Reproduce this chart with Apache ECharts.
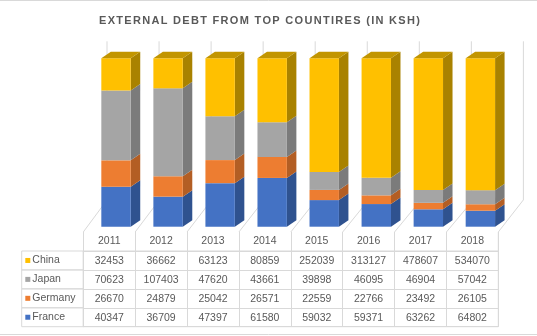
<!DOCTYPE html>
<html><head><meta charset="utf-8">
<script src="https://cdn.jsdelivr.net/npm/echarts@6/dist/echarts.min.js"></script>
<style>html,body{margin:0;padding:0;background:#fff}#c{width:537px;height:336px}</style>
</head><body><div id="c"></div>
<script>
// ---- data ----
const titleText = 'EXTERNAL DEBT FROM TOP COUNTIRES (IN KSH)';
const years = ['2011','2012','2013','2014','2015','2016','2017','2018'];
const countries = ['China','Japan','Germany','France'];
const china   = [32453, 36662, 63123, 80859, 252039, 313127, 478607, 534070];
const japan   = [70623, 107403, 47620, 43661, 39898, 46095, 46904, 57042];
const germany = [26670, 24879, 25042, 26571, 22559, 22766, 23492, 26105];
const france  = [40347, 36709, 47397, 61580, 59032, 59371, 63262, 64802];

// ---- styling ----
const FONT = '"Liberation Sans", Arial, sans-serif';
const TXT = '#595959';
const LINE = '#d9d9d9';
const DX = 9.5, DY = -6.5;
const colors = {
  China:   {front:'#FFC000', side:'#A98200', top:'#C29500'},
  Japan:   {front:'#A5A5A5', side:'#7B7B7B', top:'#8C8C8C'},
  Germany: {front:'#ED7D31', side:'#B35E24', top:'#C96A29'},
  France:  {front:'#4472C4', side:'#2F528F', top:'#3A62A8'}
};
const valuesByCountry = {China: china, Japan: japan, Germany: germany, France: france};
const stackOrder = ['France','Germany','Japan','China'];
const totals = years.map((_, i) => china[i] + japan[i] + germany[i] + france[i]);

// cumulative share per year
const cum = years.map(() => 0);
const barSeries = stackOrder.map((name, k) => {
  const vals = valuesByCountry[name];
  const data = years.map((_, i) => {
    const lo = cum[i];
    const hi = lo + vals[i] / totals[i];
    cum[i] = hi;
    return [i, lo, hi];
  });
  const isTop = k === stackOrder.length - 1;
  const c = colors[name];
  return {
    type: 'custom', name, xAxisIndex: 0, yAxisIndex: 0, z: 5,
    data,
    renderItem(params, api) {
      const i = api.value(0), lo = api.value(1), hi = api.value(2);
      const pLo = api.coord([i, lo]), pHi = api.coord([i, hi]);
      const w = api.size([1, 0])[0] * 0.565;
      const x0 = pLo[0] - w / 2, x1 = x0 + w;
      const ch = [
        {type:'polygon', shape:{points:[[x1,pHi[1]],[x1+DX,pHi[1]+DY],[x1+DX,pLo[1]+DY],[x1,pLo[1]]]}, style:{fill:c.side}},
        {type:'rect', shape:{x:x0, y:pHi[1], width:w, height:pLo[1]-pHi[1]}, style:{fill:c.front}}
      ];
      if (isTop) ch.push({type:'polygon', shape:{points:[[x0,pHi[1]],[x0+DX,pHi[1]+DY],[x1+DX,pHi[1]+DY],[x1,pHi[1]]]}, style:{fill:c.top}});
      return {type:'group', children: ch};
    }
  };
});

// back wall lines (behind bars)
const wallSeries = {
  type:'custom', xAxisIndex:0, yAxisIndex:0, z:1, silent:true,
  data: years.map((_, i) => [i, 0]),
  renderItem(params, api) {
    const p = api.coord([api.value(0), 0]);
    const bw = api.size([1,0])[0];
    const top = api.coord([0, 1])[1] - 17;
    const xs = [p[0] - bw/2 + 17];
    if (api.value(0) === years.length - 1) xs.push(p[0] + bw/2 + 17);
    return {type:'group', children: xs.map(x => ({type:'line', shape:{x1:x, y1:top, x2:x, y2:200}, style:{stroke:LINE, lineWidth:1}}))};
  }
};

// table cells (numbers)
const rowsData = [];
countries.forEach((cn, r) => {
  valuesByCountry[cn].forEach((v, col) => rowsData.push([col, r, v]));
});
const tableSeries = {
  type:'custom', xAxisIndex:1, yAxisIndex:1, z:3, silent:true,
  data: rowsData,
  renderItem(params, api) {
    const col = api.value(0), row = api.value(1);
    const p = api.coord([col, row]);
    const sz = api.size([1, 1]);
    const ch = [{type:'text', x:p[0], y:p[1]+0.5, style:{text:String(api.value(2)), fill:TXT, fontSize:10.5, fontFamily:FONT, align:'center', verticalAlign:'middle'}}];
    if (col === 0) {
      ch.push({type:'rect', shape:{x:p[0]-sz[0]/2-61.6, y:p[1]-sz[1]/2, width:61.6, height:sz[1]}, style:{fill:'none', stroke:LINE, lineWidth:1}});
    }
    if (row === 0) {
      const xl = p[0] - sz[0]/2;
      const headTop = p[1] - sz[1]/2 - 19;
      ch.push({type:'line', z2:-1, shape:{x1:xl, y1:headTop, x2:xl+23.7+0.44*col, y2:200}, style:{stroke:LINE, lineWidth:1}});
      if (col === years.length - 1) {
        const xr = p[0] + sz[0]/2;
        ch.push({type:'line', shape:{x1:xr, y1:headTop, x2:xr+25, y2:200}, style:{stroke:LINE, lineWidth:1}});
        ch.push({type:'line', shape:{x1:xr, y1:headTop, x2:xr, y2:p[1]-sz[1]/2}, style:{stroke:LINE, lineWidth:1}});
      }
    }
    return {type:'group', children: ch};
  }
};

const rich = {t:{color:TXT, fontSize:10.5, fontFamily:FONT, padding:[0,0,0,2]}};
countries.forEach((cn, i) => {
  rich['s' + i] = {width:5, height:5, backgroundColor: colors[cn].front};
});

const titleRich = titleText.split('').map(ch => '{c|' + ch + '}').join('');

const chart = echarts.init(document.getElementById('c'), null, {renderer:'canvas'});
chart.setOption({
  backgroundColor:'#fff',
  animation:false,
  title:{
    text: titleRich, left:94, top:10,
    textStyle:{rich:{c:{fontSize:11, fontWeight:'bold', color:TXT, fontFamily:FONT, padding:[0,1.3,0,0]}}}
  },
  grid:[
    {left:90, right:30.6, top:58.3, bottom:109.3},
    {left:83.3, right:38.7, top:251, bottom:9.3, show:true, borderColor:LINE, borderWidth:1}
  ],
  xAxis:[
    {type:'category', gridIndex:0, data:years, show:false},
    {type:'category', gridIndex:1, data:years, position:'top',
     axisLine:{show:true, lineStyle:{color:LINE}},
     axisTick:{show:true, length:19, lineStyle:{color:LINE}},
     axisLabel:{color:TXT, fontSize:10.5, fontFamily:FONT, margin:4},
     splitLine:{show:true, lineStyle:{color:LINE}}}
  ],
  yAxis:[
    {type:'value', gridIndex:0, min:0, max:1, show:false},
    {type:'category', gridIndex:1, data:countries, inverse:true,
     axisLine:{show:true, lineStyle:{color:LINE}},
     axisTick:{show:false},
     axisLabel:{margin:58, align:'left', formatter:(v, i) => '{s' + i + '|}{t|' + v + '}', rich},
     splitLine:{show:true, lineStyle:{color:LINE}}}
  ],
  graphic:[
    {type:'line', shape:{x1:0, y1:0.5, x2:537, y2:0.5}, style:{stroke:LINE}},
    {type:'line', shape:{x1:0, y1:334.5, x2:537, y2:334.5}, style:{stroke:LINE}}
  ],
  series:[wallSeries, ...barSeries, tableSeries]
});
</script></body></html>
